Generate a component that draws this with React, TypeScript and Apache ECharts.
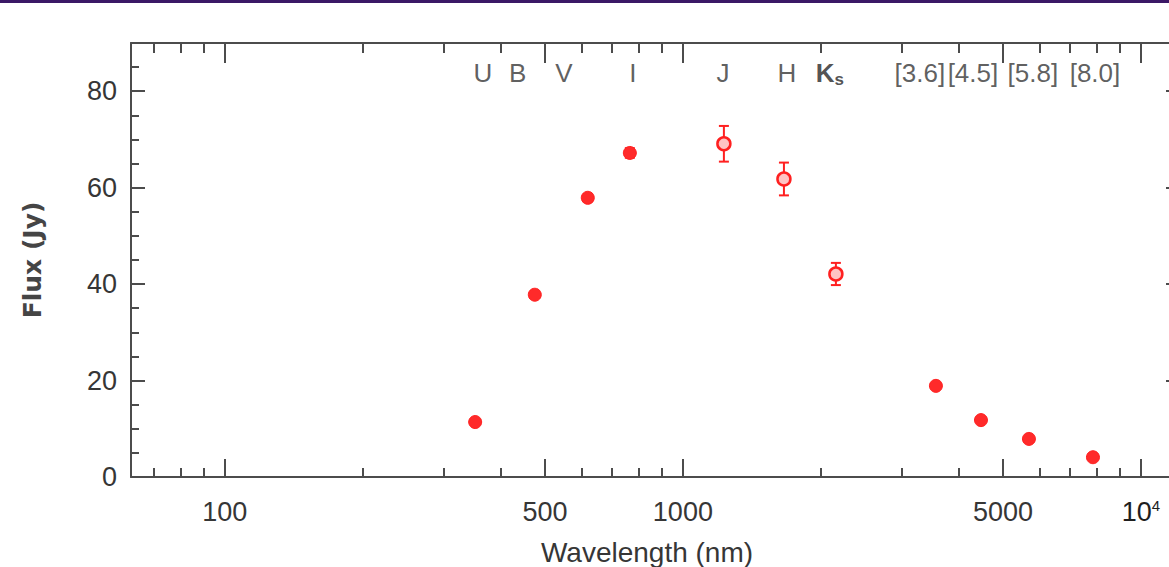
import React, { useEffect, useRef } from "react";
import * as echarts from "echarts";

// ---- data ----
const BANDS = ["U", "B", "V", "I", "J", "H", "Ks", "[3.6]", "[4.5]", "[5.8]", "[8.0]"];
const WAVELENGTH_NM = [352, 475, 620, 766, 1229, 1662, 2158, 3568, 4475, 5695, 7857];
const FLUX_JY = [11.4, 37.8, 57.9, 67.2, 69.1, 61.8, 42.1, 18.9, 11.8, 7.9, 4.1];
const FLUX_ERR = [0.5, 0.6, 0.8, 1.0, 3.7, 3.4, 2.3, 0.4, 0.3, 0.2, 0.1];

// band name anchors (wavelength, flux) along the top of the frame
const BAND_LABEL_NM = [366, 436, 550, 778, 1223, 1687, 2094, 3292, 4298, 5810, 7937];
const BAND_LABEL_FLUX = 83.8;

// axes
const X_MIN_NM = 62.4;
const X_MAX_NM = 12170;
const X_MAJOR_TICKS = [100, 500, 1000, 5000, 10000];
const X_MINOR_TICKS = [70, 80, 90, 200, 300, 400, 600, 700, 800, 900, 2000, 3000, 4000, 6000, 7000, 8000, 9000];
const Y_MIN = 0;
const Y_MAX = 90;
const Y_MAJOR_TICKS = [0, 20, 40, 60, 80];
const Y_MINOR_TICKS = [5, 10, 15, 25, 30, 35, 45, 50, 55, 65, 70, 75, 85];

const X_TITLE = "Wavelength (nm)";
const Y_TITLE = "Flux (Jy)";

// ---- styling ----
const RED = "#ff2020";
const AXIS = "#4c4c4c";
const TEXT = "#363636";
const FONT = "Liberation Sans";
const lg = (v: number) => Math.log10(v);

export default function App() {
  const ref = useRef<HTMLDivElement>(null);

  useEffect(() => {
    if (!ref.current) return;
    const chart = echarts.init(ref.current, null, { renderer: "svg", width: 1169, height: 567 });

    const gridRect = { left: 131, top: 43, width: 1049, height: 434, containLabel: false, outerBoundsMode: "none" };
    const lineStyle = { color: AXIS, width: 2 };

    const xBase = (extra: any) => ({
      type: "value",
      min: lg(X_MIN_NM),
      max: lg(X_MAX_NM),
      splitLine: { show: false },
      ...extra,
    });
    const yBase = (extra: any) => ({
      type: "value",
      min: Y_MIN,
      max: Y_MAX,
      splitLine: { show: false },
      ...extra,
    });

    const xMajor = X_MAJOR_TICKS.map(lg);
    const xMinor = X_MINOR_TICKS.map(lg);

    const pts = WAVELENGTH_NM.map((w, i) => [lg(w), FLUX_JY[i], FLUX_ERR[i], BANDS[i]]);
    const solidPts = pts.filter((p) => (p[2] as number) < 2);
    const hollowPts = pts.filter((p) => (p[2] as number) >= 2);

    const option: any = {
      animation: false,
      backgroundColor: "#ffffff",
      textStyle: { fontFamily: FONT },
      grid: [{ ...gridRect }, { ...gridRect }],
      xAxis: [
        xBase({
          gridIndex: 0,
          position: "bottom",
          axisLine: { show: true, onZero: false, lineStyle },
          axisTick: { show: true, inside: true, length: 18, customValues: xMajor, lineStyle },
          axisLabel: {
            show: true,
            customValues: xMajor,
            margin: 21,
            fontSize: 27,
            fontFamily: FONT,
            color: TEXT,
            formatter: (v: number) => {
              const n = Math.round(Math.pow(10, v));
              if (n >= 10000) return "{a|10}{b|" + String(Math.round(v)) + "}";
              return String(n);
            },
            rich: {
              a: { fontSize: 27, fontFamily: FONT, color: "#1e1e1e" },
              b: { fontSize: 15, fontFamily: FONT, color: "#1e1e1e", verticalAlign: "top", padding: [0, 0, 12, 0] },
            },
          },
          name: X_TITLE,
          nameLocation: "middle",
          nameGap: 61,
          nameTextStyle: { fontSize: 28, fontFamily: FONT, color: TEXT, padding: [0, 17, 0, 0] },
        }),
        xBase({
          gridIndex: 0,
          position: "top",
          axisLine: { show: true, onZero: false, lineStyle },
          axisTick: { show: true, inside: true, length: 20, customValues: xMajor, lineStyle },
          axisLabel: { show: false },
        }),
        xBase({
          gridIndex: 1,
          position: "bottom",
          axisLine: { show: false, onZero: false },
          axisTick: { show: true, inside: true, length: 9, customValues: xMinor, lineStyle },
          axisLabel: { show: false },
        }),
        xBase({
          gridIndex: 1,
          position: "top",
          axisLine: { show: false, onZero: false },
          axisTick: { show: true, inside: true, length: 10, customValues: xMinor, lineStyle },
          axisLabel: { show: false },
        }),
      ],
      yAxis: [
        yBase({
          gridIndex: 0,
          position: "left",
          axisLine: { show: true, onZero: false, lineStyle },
          axisTick: { show: true, inside: true, length: 14, customValues: Y_MAJOR_TICKS, lineStyle },
          axisLabel: {
            show: true,
            customValues: Y_MAJOR_TICKS,
            margin: 14,
            fontSize: 27,
            fontFamily: FONT,
            color: TEXT,
            padding: [10, 0, 0, 0],
          },
          name: Y_TITLE,
          nameLocation: "middle",
          nameGap: 86,
          nameTextStyle: { fontSize: 25, fontFamily: "DejaVu Sans", fontWeight: "bold", color: "#454545" },
        }),
        yBase({
          gridIndex: 0,
          position: "right",
          axisLine: { show: true, onZero: false, lineStyle },
          axisTick: { show: true, inside: true, length: 14, customValues: Y_MAJOR_TICKS, lineStyle },
          axisLabel: { show: false },
        }),
        yBase({
          gridIndex: 1,
          position: "left",
          axisLine: { show: false, onZero: false },
          axisTick: { show: true, inside: true, length: 8, customValues: Y_MINOR_TICKS, lineStyle },
          axisLabel: { show: false },
        }),
        yBase({
          gridIndex: 1,
          position: "right",
          axisLine: { show: false, onZero: false },
          axisTick: { show: true, inside: true, length: 8, customValues: Y_MINOR_TICKS, lineStyle },
          axisLabel: { show: false },
        }),
      ],
      graphic: [
        {
          type: "rect",
          left: 0,
          top: 0,
          shape: { width: 1169, height: 3 },
          style: { fill: "#3b1866" },
          silent: true,
        },
      ],
      series: [
        {
          type: "custom",
          name: "error",
          xAxisIndex: 0,
          yAxisIndex: 0,
          data: pts,
          encode: { x: 0, y: 1 },
          z: 2,
          renderItem: (params: any, api: any) => {
            const x = api.value(0);
            const y = api.value(1);
            const e = api.value(2);
            const top = api.coord([x, y + e]);
            const bot = api.coord([x, y - e]);
            const hw = 5;
            const st = { stroke: RED, lineWidth: 2 };
            return {
              type: "group",
              children: [
                { type: "line", shape: { x1: top[0], y1: top[1], x2: bot[0], y2: bot[1] }, style: st },
                { type: "line", shape: { x1: top[0] - hw, y1: top[1], x2: top[0] + hw, y2: top[1] }, style: st },
                { type: "line", shape: { x1: bot[0] - hw, y1: bot[1], x2: bot[0] + hw, y2: bot[1] }, style: st },
              ],
            };
          },
        },
        {
          type: "scatter",
          name: "flux",
          xAxisIndex: 0,
          yAxisIndex: 0,
          data: solidPts,
          symbol: "circle",
          symbolSize: 13,
          z: 3,
          itemStyle: { color: "#ff2a2a", borderColor: RED, borderWidth: 1, opacity: 1 },
        },
        {
          type: "scatter",
          name: "flux-err",
          xAxisIndex: 0,
          yAxisIndex: 0,
          data: hollowPts,
          symbol: "circle",
          symbolSize: 13,
          z: 3,
          itemStyle: { color: "#ffc4c4", borderColor: RED, borderWidth: 2.5, opacity: 1 },
        },
        {
          type: "scatter",
          name: "bands",
          xAxisIndex: 0,
          yAxisIndex: 0,
          data: BAND_LABEL_NM.map((w, i) => [lg(w), BAND_LABEL_FLUX, BANDS[i]]),
          symbolSize: 1,
          silent: true,
          z: 4,
          itemStyle: { color: "transparent" },
          label: {
            show: true,
            position: "inside",
            fontSize: 26,
            fontFamily: FONT,
            color: TEXT,
            formatter: (p: any) => {
              const s = p.data[2] as string;
              if (s === "Ks") return "{k|K}{s|s}";
              return s;
            },
            rich: {
              k: { fontSize: 26, fontFamily: FONT, color: "#262626", fontWeight: "bold" },
              s: { fontSize: 17, fontFamily: FONT, color: "#262626", fontWeight: "bold", verticalAlign: "bottom", padding: [14, 0, 0, 0] },
            },
          },
        },
      ],
    };

    chart.setOption(option);
    return () => chart.dispose();
  }, []);

  return (
    <div
      ref={ref}
      style={{ position: "fixed", left: 0, top: 0, width: 1169, height: 567, background: "#ffffff" }}
    />
  );
}
